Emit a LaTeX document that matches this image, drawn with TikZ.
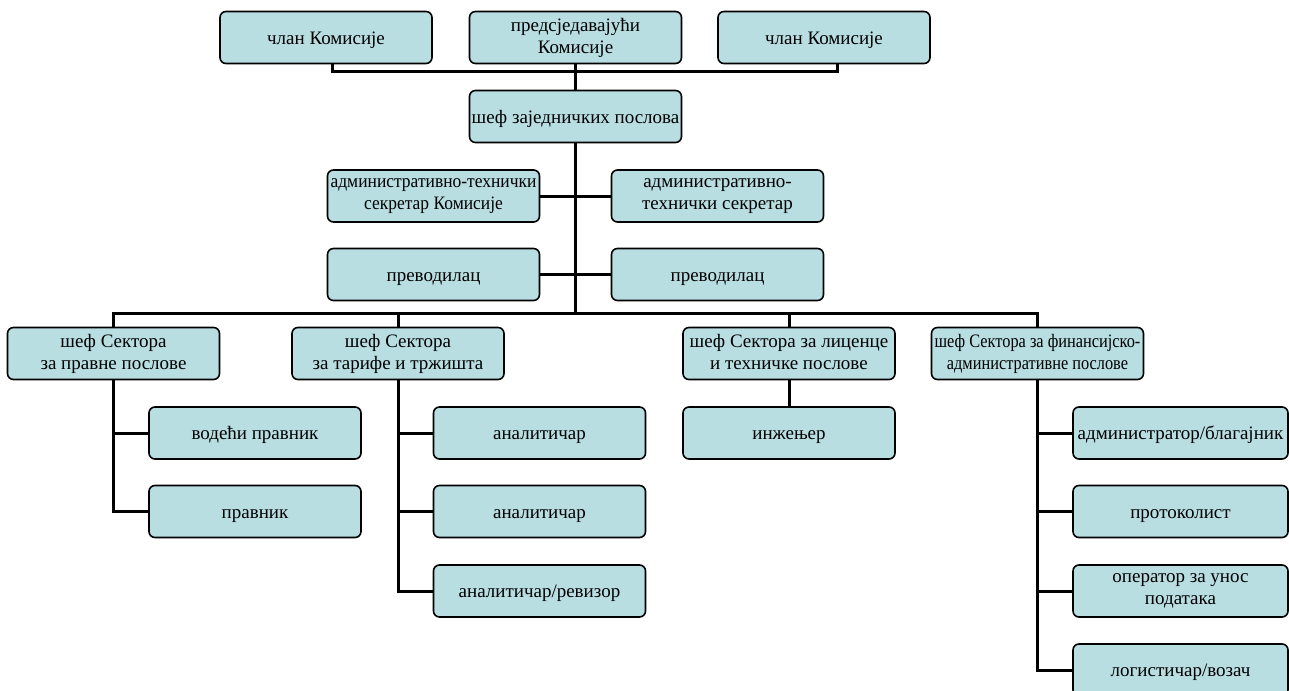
\documentclass[tikz,border=0pt]{standalone}
\usepackage{fontspec}
\setmainfont{Liberation Serif}
\newfontfamily\narrowfont[FakeStretch=0.92]{Liberation Serif}
\newfontfamily\narrowerfont[FakeStretch=0.86]{Liberation Serif}
\usetikzlibrary{positioning}
\definecolor{boxfill}{RGB}{184,222,226}
\tikzstyle{box}=[draw=black,fill=boxfill,line width=1.6pt,rounded corners=6pt,minimum width=212pt,minimum height=52pt,align=center,inner sep=1pt,font=\fontsize{19}{22}\selectfont,execute at begin node={\rule{0pt}{18pt}},execute at end node={\rule[-4pt]{0pt}{4pt}}]
\tikzstyle{wbox}=[box,minimum width=215pt]
\tikzstyle{conn}=[line width=3pt,draw=black]

\begin{document}
\begin{tikzpicture}[
    x=1pt,y=-1pt
    ]
    \useasboundingbox (0,0) rectangle (1289,690);
    % Komisija
    \node[box](m1) at (326,37.5){члан Комисије};
    \node[box](chair) at (575.5,37.5){предсједавајући\\Комисије};
    \node[box](m2) at (824,37.5){члан Комисије};
    \node[box](head) at (575.5,116.5){шеф заједничких послова};
    % staff
    \node[box](adm1) at (433.5,196){\narrowfont административно-технички\\\narrowfont секретар Комисије};
    \node[box](adm2) at (717.5,196){административно-\\технички секретар};
    \node[box](tr1) at (433.5,274.5){преводилац};
    \node[box](tr2) at (717.5,274.5){преводилац};
    % sektori
    \node[box](sec1) at (113.5,353.5){шеф Сектора\\за правне послове};
    \node[box](sec2) at (398,353.5){шеф Сектора\\за тарифе и тржишта};
    \node[box](sec3) at (789,353.5){шеф Сектора за лиценце\\и техничке послове};
    \node[box](sec4) at (1037.5,353.5){\narrowerfont шеф Сектора за финансијско-\\\narrowerfont административне послове};
    \node[box](c11) at (255,433){водећи правник};
    \node[box](c12) at (255,511.5){правник};
    \node[box](c21) at (539.5,433){аналитичар};
    \node[box](c22) at (539.5,511.5){аналитичар};
    \node[box](c23) at (539.5,591){аналитичар/ревизор};
    \node[box](c31) at (789,433){инжењер};
    \node[wbox](c41) at (1180.5,433){администратор/благајник};
    \node[wbox](c42) at (1180.5,511.5){протоколист};
    \node[wbox](c43) at (1180.5,591){оператор за унос\\података};
    \node[wbox](c44) at (1180.5,670){логистичар/возач};
    % veze
    \draw[conn] ([xshift=6pt]m1.south) |- ([xshift=13pt]m2.south |- 0,72) -- ([xshift=13pt]m2.south);
    \draw[conn] (chair.south) -- (head.north);
    \draw[conn] (head.south) -- (head.south |- 0,313);
    \draw[conn] (adm1.east) -- (adm2.west);
    \draw[conn] (tr1.east) -- (tr2.west);
    \draw[conn] (sec1.north) |- (sec4.north |- 0,313) -- (sec4.north);
    \draw[conn] (sec2.north) -- (sec2.north |- 0,313);
    \draw[conn] (sec3.north) -- (sec3.north |- 0,313);
    \draw[conn] (sec1.south) |- (c12.west);
    \draw[conn] (sec1.south |- c11.west) -- (c11.west);
    \draw[conn] (sec2.south) |- (c23.west);
    \draw[conn] (sec2.south |- c21.west) -- (c21.west);
    \draw[conn] (sec2.south |- c22.west) -- (c22.west);
    \draw[conn] (sec3.south) -- (c31.north);
    \draw[conn] (sec4.south) |- (c44.west);
    \draw[conn] (sec4.south |- c41.west) -- (c41.west);
    \draw[conn] (sec4.south |- c42.west) -- (c42.west);
    \draw[conn] (sec4.south |- c43.west) -- (c43.west);
\end{tikzpicture}
\end{document}
